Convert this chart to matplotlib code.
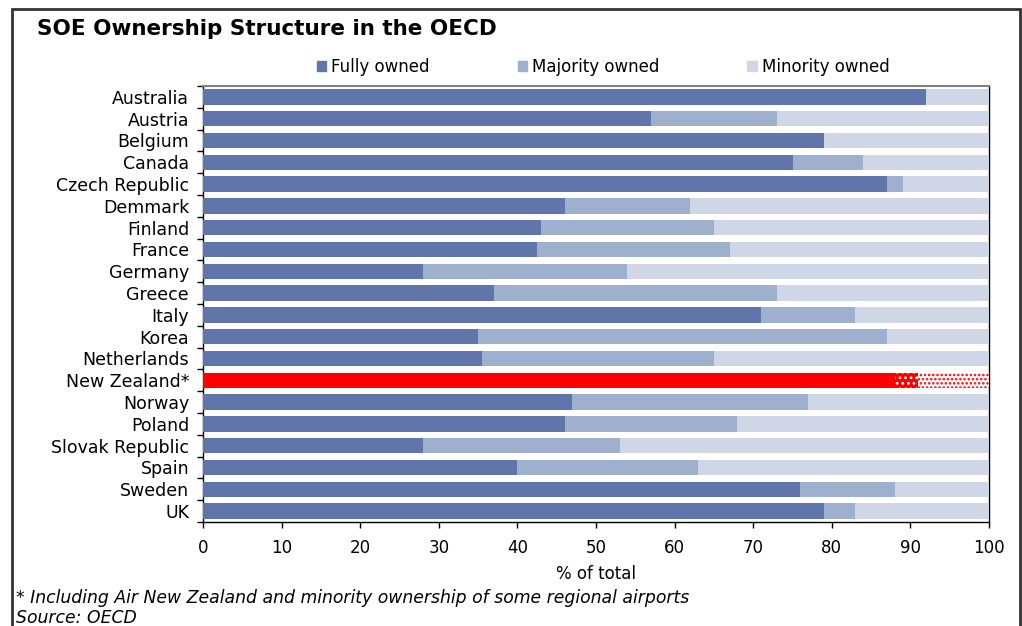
import numpy as np
import matplotlib
matplotlib.use('Agg')
import matplotlib.pyplot as plt
from matplotlib.patches import Rectangle, Patch

countries = ['Australia', 'Austria', 'Belgium', 'Canada', 'Czech Republic', 'Demmark',
             'Finland', 'France', 'Germany', 'Greece', 'Italy', 'Korea', 'Netherlands',
             'New Zealand*', 'Norway', 'Poland', 'Slovak Republic', 'Spain', 'Sweden', 'UK']
fully = [92, 57, 79, 75, 87, 46, 43, 42.5, 28, 37, 71, 35, 35.5, 88, 47, 46, 28, 40, 76, 79]
majority = [0, 16, 0, 9, 2, 16, 22, 24.5, 26, 36, 12, 52, 29.5, 3, 30, 22, 25, 23, 12, 4]
minority = [8, 27, 21, 16, 11, 38, 35, 33, 46, 27, 17, 13, 35, 9, 23, 32, 47, 37, 12, 17]
highlight = 'New Zealand*'

c_full = '#6076AA'
c_maj = '#9FAFCE'
c_min = '#CFD7E6'

plt.rcParams['font.family'] = 'DejaVu Sans'
plt.rcParams['hatch.linewidth'] = 1.2

fig = plt.figure(figsize=(10.22, 6.26), dpi=100)
ax = fig.add_axes([203 / 1022, 1 - 522 / 626, (989 - 203) / 1022, (522 - 86) / 626])

y = np.arange(len(countries))
fully = np.array(fully)
majority = np.array(majority)
minority = np.array(minority)
hl = np.array([c == highlight for c in countries])

h = 0.7
ax.barh(y[~hl], fully[~hl], height=h, color=c_full, zorder=3, label='Fully owned')
ax.barh(y[~hl], majority[~hl], left=fully[~hl], height=h, color=c_maj, zorder=3,
        label='Majority owned')
ax.barh(y[~hl], minority[~hl], left=(fully + majority)[~hl], height=h, color=c_min,
        zorder=3, label='Minority owned')

# New Zealand highlighted in red
ax.barh(y[hl], fully[hl], height=h, color='#FF0000', zorder=3)
ax.barh(y[hl], majority[hl], left=fully[hl], height=h, facecolor='#FF0000',
        edgecolor='white', hatch='...', linewidth=0, zorder=3)
ax.barh(y[hl], minority[hl], left=(fully + majority)[hl], height=h, facecolor='white',
        edgecolor='#FF0000', hatch='....', linewidth=0, zorder=3)

ax.set_xlim(0, 100)
ax.set_ylim(len(countries) - 0.5, -0.5)
ax.set_xticks(np.arange(0, 101, 10))
ax.set_yticks(y)
ax.set_yticklabels(countries)
ax.set_yticks(np.arange(-0.5, len(countries), 1), minor=True)
ax.tick_params(axis='y', which='major', length=0, pad=10, labelsize=12.5)
ax.tick_params(axis='y', which='minor', length=4, width=1, direction='out')
ax.tick_params(axis='x', length=4, width=1, direction='out', pad=8, labelsize=12)
ax.set_xlabel('% of total', fontsize=12, labelpad=6)

for s in ['left', 'bottom', 'right']:
    ax.spines[s].set_color('black')
    ax.spines[s].set_linewidth(1)
ax.spines['top'].set_color('#808080')
ax.spines['top'].set_linewidth(1.5)

handles = [Patch(color=c_full), Patch(color=c_maj), Patch(color=c_min)]
fig.legend(handles, ['Fully owned', 'Majority owned', 'Minority owned'],
           loc='center', bbox_to_anchor=(603 / 1022, 1 - 67 / 626), ncol=3,
           frameon=False, fontsize=12, handlelength=0.55, handleheight=0.55,
           handletextpad=0.3, columnspacing=5.3)

fig.text(37 / 1022, 1 - 35 / 626, 'SOE Ownership Structure in the OECD',
         fontsize=15.5, fontweight='bold', va='baseline', ha='left')

fig.text(16 / 1022, 1 - 598 / 626,
         '* Including Air New Zealand and minority ownership of some regional airports',
         fontsize=12.4, style='italic', va='center', ha='left')
fig.text(16 / 1022, 1 - 618 / 626, 'Source: OECD', fontsize=12.4, style='italic',
         va='center', ha='left')

fig.patches.append(Rectangle((12 / 1022, -0.1), (1020 - 12) / 1022, 1.1 - 9 / 626,
                             transform=fig.transFigure, fill=False,
                             edgecolor='#333333', linewidth=2))

fig.savefig('out.png', dpi=100)
